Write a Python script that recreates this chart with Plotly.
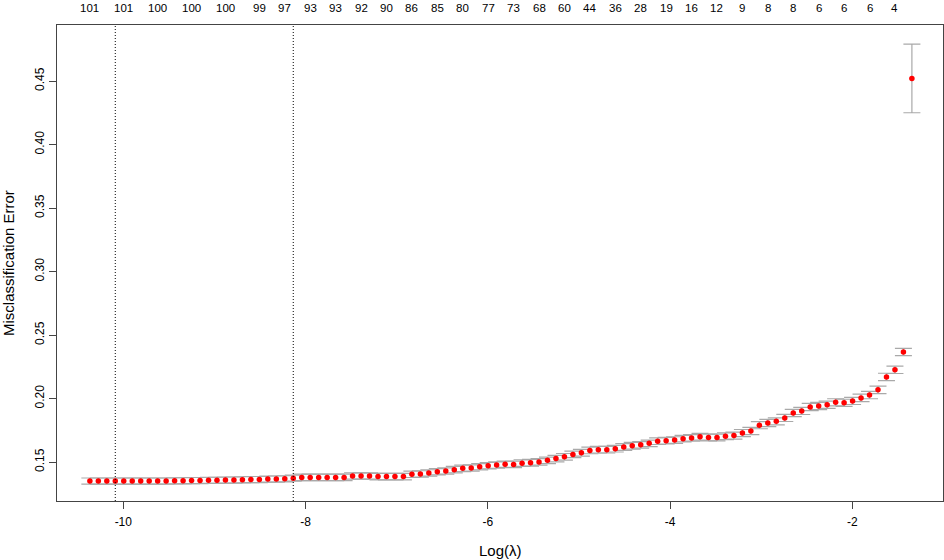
import plotly.graph_objects as go

# log(lambda) path (as plotted by cv.glmnet)
log_lambda = [
    -10.367, -10.274, -10.181, -10.088, -9.995, -9.902, -9.809, -9.716, -9.623, -9.530,
    -9.437, -9.344, -9.251, -9.158, -9.065, -8.972, -8.879, -8.786, -8.693, -8.600,
    -8.507, -8.414, -8.321, -8.228, -8.135, -8.042, -7.949, -7.856, -7.763, -7.670,
    -7.577, -7.484, -7.391, -7.298, -7.205, -7.112, -7.019, -6.926, -6.833, -6.740,
    -6.647, -6.554, -6.461, -6.368, -6.275, -6.182, -6.089, -5.996, -5.903, -5.810,
    -5.717, -5.624, -5.531, -5.438, -5.345, -5.252, -5.159, -5.066, -4.973, -4.880,
    -4.787, -4.694, -4.601, -4.508, -4.415, -4.322, -4.229, -4.136, -4.043, -3.950,
    -3.857, -3.764, -3.671, -3.578, -3.485, -3.392, -3.299, -3.206, -3.113, -3.020,
    -2.927, -2.834, -2.741, -2.648, -2.555, -2.462, -2.369, -2.276, -2.183, -2.090,
    -1.997, -1.904, -1.811, -1.718, -1.625, -1.532, -1.439, -1.346,
]

cv_error = [
    0.1350, 0.1350, 0.1350, 0.1350, 0.1350, 0.1350, 0.1350, 0.1350, 0.1350, 0.1350,
    0.1352, 0.1352, 0.1354, 0.1354, 0.1356, 0.1356, 0.1358, 0.1358, 0.1360, 0.1362,
    0.1362, 0.1366, 0.1366, 0.1368, 0.1373, 0.1379, 0.1379, 0.1379, 0.1379, 0.1379,
    0.1379, 0.1390, 0.1390, 0.1390, 0.1385, 0.1385, 0.1385, 0.1385, 0.1403, 0.1406,
    0.1414, 0.1423, 0.1429, 0.1440, 0.1450, 0.1453, 0.1463, 0.1471, 0.1476, 0.1482,
    0.1481, 0.1491, 0.1494, 0.1501, 0.1513, 0.1527, 0.1541, 0.1560, 0.1573, 0.1591,
    0.1597, 0.1597, 0.1605, 0.1618, 0.1628, 0.1635, 0.1647, 0.1664, 0.1668, 0.1673,
    0.1684, 0.1690, 0.1699, 0.1693, 0.1693, 0.1703, 0.1708, 0.1728, 0.1744, 0.1790,
    0.1807, 0.1820, 0.1847, 0.1886, 0.1902, 0.1933, 0.1941, 0.1951, 0.1970, 0.1966,
    0.1981, 0.2005, 0.2027, 0.2068, 0.2170, 0.2226, 0.2366, 0.4520,
]

cv_sd = [
    0.0024, 0.0024, 0.0024, 0.0024, 0.0024, 0.0024, 0.0024, 0.0024, 0.0024, 0.0024,
    0.0024, 0.0024, 0.0024, 0.0024, 0.0024, 0.0024, 0.0024, 0.0024, 0.0024, 0.0024,
    0.0024, 0.0024, 0.0024, 0.0024, 0.0024, 0.0025, 0.0025, 0.0025, 0.0025, 0.0025,
    0.0025, 0.0025, 0.0025, 0.0025, 0.0025, 0.0025, 0.0025, 0.0025, 0.0025, 0.0025,
    0.0025, 0.0025, 0.0025, 0.0025, 0.0025, 0.0025, 0.0025, 0.0025, 0.0025, 0.0025,
    0.0025, 0.0026, 0.0026, 0.0026, 0.0026, 0.0026, 0.0026, 0.0026, 0.0026, 0.0026,
    0.0026, 0.0026, 0.0026, 0.0026, 0.0026, 0.0026, 0.0026, 0.0026, 0.0026, 0.0026,
    0.0026, 0.0026, 0.0026, 0.0026, 0.0026, 0.0026, 0.0028, 0.0028, 0.0028, 0.0028,
    0.0028, 0.0028, 0.0028, 0.0028, 0.0028, 0.0028, 0.0028, 0.0028, 0.0028, 0.0028,
    0.0028, 0.0029, 0.0029, 0.0029, 0.0029, 0.0029, 0.0029, 0.0270,
]

# number of non-zero coefficients shown on the top axis
nzero_index = [0, 4, 8, 12, 16, 20, 23, 26, 29, 32, 35, 38, 41, 44, 47, 50, 53, 56,
               59, 62, 65, 68, 71, 74, 77, 80, 83, 86, 89, 92, 95]
nzero_labels = ["101", "101", "100", "100", "100", "99", "97", "93", "93", "92", "90",
                "86", "85", "80", "77", "73", "68", "60", "44", "36", "28", "19", "16",
                "12", "9", "8", "8", "6", "6", "6", "4"]

lambda_min_index = 3
lambda_1se_index = 24

x_ticks = [-10, -8, -6, -4, -2]
x_tick_labels = ["-10", "-8", "-6", "-4", "-2"]
y_ticks = [0.15, 0.20, 0.25, 0.30, 0.35, 0.40, 0.45]
y_tick_labels = ["0.15", "0.20", "0.25", "0.30", "0.35", "0.40", "0.45"]

FONT = "Liberation Sans, Arial, Helvetica, sans-serif"
AXIS_COLOR = "#444444"

fig = go.Figure()
fig.add_trace(go.Scatter(
    x=log_lambda, y=cv_error, mode="markers",
    marker=dict(color="#FF0000", size=5.5, line=dict(width=0)),
    error_y=dict(type="data", array=cv_sd, arrayminus=cv_sd, symmetric=False,
                 color="#A9A9A9", thickness=1.2, width=8.5),
    showlegend=False, hoverinfo="x+y",
))

for idx in (lambda_min_index, lambda_1se_index):
    fig.add_shape(type="line", xref="x", yref="paper",
                  x0=log_lambda[idx], x1=log_lambda[idx], y0=0, y1=1,
                  line=dict(color="black", width=1, dash="1px,2px"))

annotations = []
for idx, lab in zip(nzero_index, nzero_labels):
    annotations.append(dict(x=log_lambda[idx], y=1.036, xref="x", yref="paper",
                            text=lab, showarrow=False, xanchor="center", yanchor="middle",
                            font=dict(family=FONT, size=11.5, color="black")))
annotations.append(dict(x=0.5, y=-0.103, xref="paper", yref="paper", text="Log(λ)",
                        showarrow=False, xanchor="center", yanchor="middle",
                        font=dict(family=FONT, size=15, color="black")))
annotations.append(dict(x=-0.0553, y=0.5, xref="paper", yref="paper",
                        text="Misclassification Error", textangle=-90,
                        showarrow=False, xanchor="center", yanchor="middle",
                        font=dict(family=FONT, size=15, color="black")))

fig.update_layout(
    width=944, height=560,
    margin=dict(l=57, r=1, t=25, b=59, pad=0),
    paper_bgcolor="white", plot_bgcolor="white",
    font=dict(family=FONT, size=12, color="black"),
    annotations=annotations,
    xaxis=dict(range=[-10.7276, -1.0047], tickvals=x_ticks, ticktext=x_tick_labels,
               showgrid=False, zeroline=False, showline=True, mirror=True,
               linecolor=AXIS_COLOR, linewidth=1, ticks="outside", ticklen=7,
               tickcolor=AXIS_COLOR, ticklabelstandoff=3,
               tickfont=dict(family=FONT, size=12)),
    yaxis=dict(range=[0.1193, 0.4941], tickvals=y_ticks, ticktext=y_tick_labels,
               tickangle=-90, showgrid=False, zeroline=False, showline=True,
               mirror=True, linecolor=AXIS_COLOR, linewidth=1, ticks="outside",
               ticklen=7, tickcolor=AXIS_COLOR, tickfont=dict(family=FONT, size=12)),
)

fig.write_html(
    "out.html",
    config={"displayModeBar": False},
    post_script="document.body.style.margin='0';document.body.style.overflow='hidden';",
)
